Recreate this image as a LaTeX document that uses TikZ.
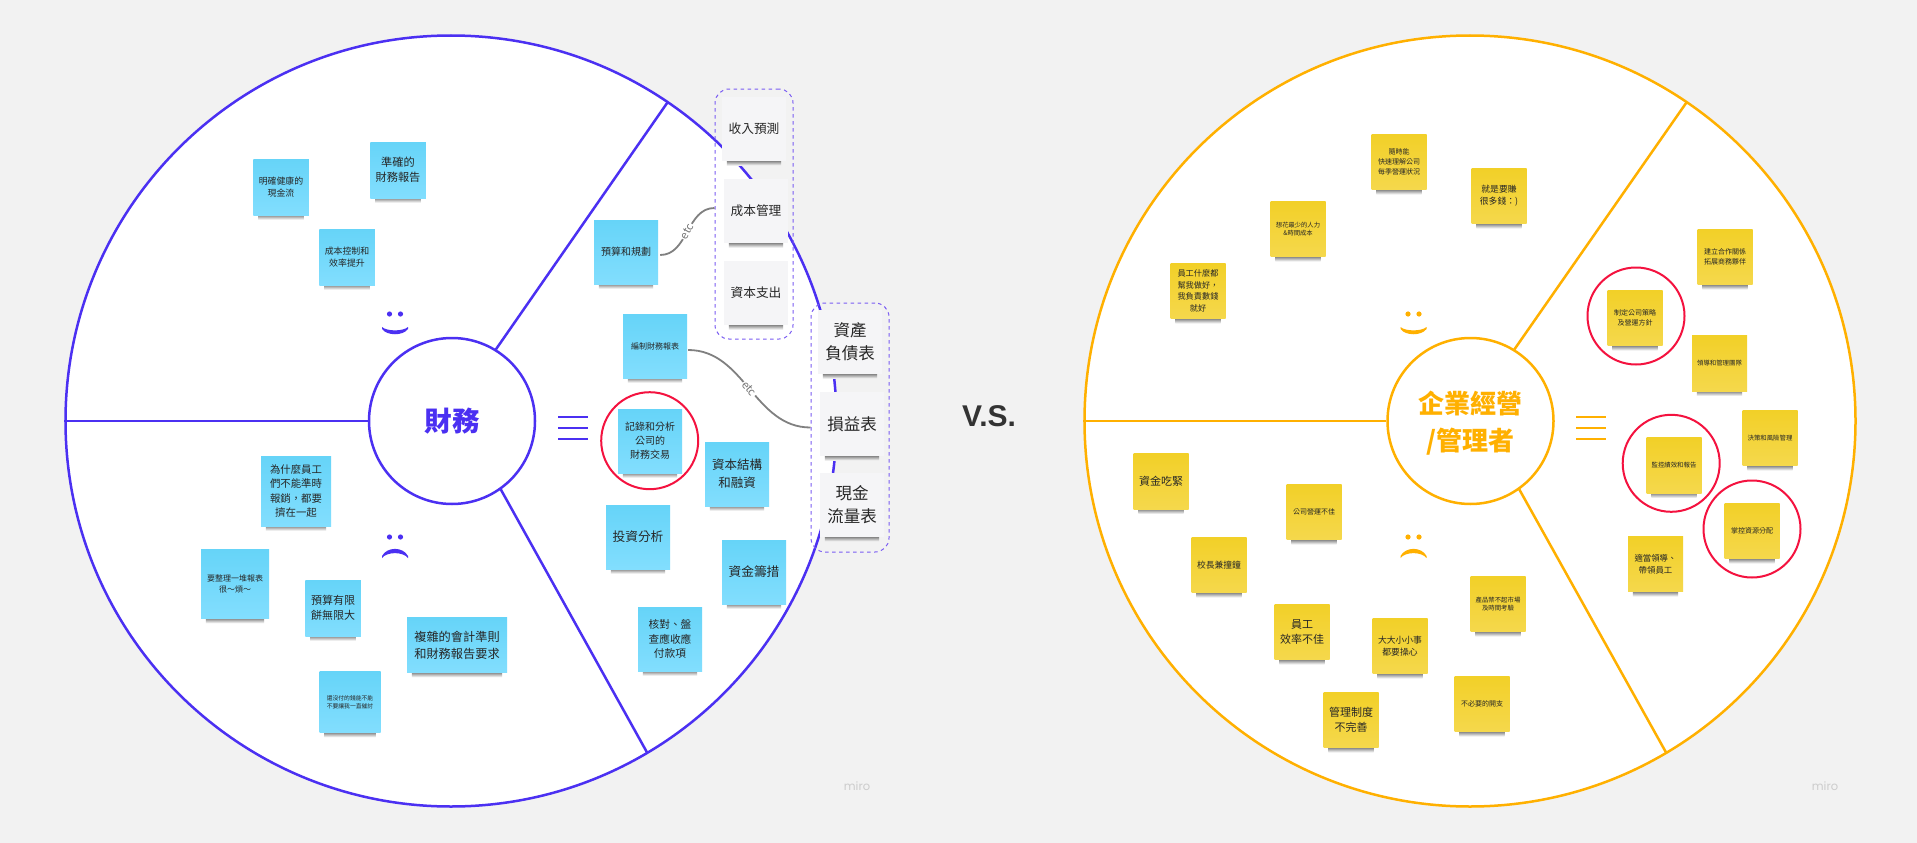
\documentclass[tikz,border=0pt]{standalone}
\usepackage{fontspec}
\setmainfont{Noto Sans CJK TC}
\newfontfamily\mirofont{Poppins}
\newfontfamily\versusfont{Liberation Sans}
\definecolor{pagegray}{HTML}{F2F2F2}
\definecolor{finblue}{HTML}{4B30F2}
\definecolor{mgmtorange}{HTML}{FFB000}
\definecolor{ringred}{HTML}{F4123F}
\definecolor{bluetop}{HTML}{66D4F8}
\definecolor{bluebot}{HTML}{82DEFE}
\definecolor{yellowtop}{HTML}{F2D028}
\definecolor{yellowbot}{HTML}{F5D84C}
\definecolor{graynote}{HTML}{F5F5F7}
\definecolor{groupdash}{HTML}{7A5CF2}
\definecolor{notetext}{HTML}{262626}
\tikzset{
  txt/.style 2 args={font=\fontsize{#1}{#2}\selectfont},
  notebase/.style={inner sep=0pt, align=center, text=notetext,
    append after command={\pgfextra{\let\notename\tikzlastnode
      \shade[top color=black!45, bottom color=white] ([xshift=5pt]\notename.south west) rectangle ([xshift=-5pt, yshift=-4.5pt]\notename.south east);}}},
  bluenote/.style={notebase, top color=bluetop, bottom color=bluebot},
  yellownote/.style={notebase, top color=yellowtop, bottom color=yellowbot, minimum width=55pt, minimum height=55.5pt},
  grayside/.style={notebase, fill=graynote, minimum width=64pt, minimum height=64pt},
  small/.style={minimum width=55.5pt, minimum height=56pt},
  mid/.style={minimum width=64pt, minimum height=64pt},
  bigring/.style={circle, draw=#1, fill=white, line width=2.5pt, inner sep=0pt, minimum size=771pt},
  hub/.style={circle, draw=#1, fill=white, line width=2.5pt, inner sep=0pt, minimum size=166pt, align=center, text=#1},
  redring/.style={circle, draw=ringred, line width=2pt, inner sep=0pt, minimum size=97pt},
  groupbox/.style={draw=groupdash, line width=1pt, dash pattern=on 3.5pt off 3.5pt, rounded corners=14pt, minimum width=78pt, inner sep=0pt},
  linkline/.style={draw=black!50, line width=1.8pt},
  etclabel/.style={midway, sloped, fill=white, inner sep=1pt, text=black!55, font=\fontsize{11}{11}\selectfont},
  miromark/.style={text=black!20, font=\mirofont\fontsize{11.5}{12}\selectfont},
  smileface/.pic={
    \path[pic actions] (-5.5,0) circle (2.6) (5.5,0) circle (2.6);
    \path[pic actions] (-13,13) .. controls (-8,17.5) and (8,17.5) .. (13,13) -- (13,15) .. controls (8,22) and (-8,22) .. (-13,15) -- cycle;
  },
  frownface/.pic={
    \path[pic actions] (-5.5,0) circle (2.6) (5.5,0) circle (2.6);
    \path[pic actions] (-13,19) .. controls (-8,9.5) and (8,9.5) .. (13,19) -- (13,21) .. controls (8,14.5) and (-8,14.5) .. (-13,21) -- cycle;
  }
}
\begin{document}
\begin{tikzpicture}[x=1pt, y=-1pt]
  \useasboundingbox (0,0) rectangle (1917,843);
  \fill[pagegray] (0,0) rectangle (1917,843);

  \node[bigring=finblue] (finouter) at (451,421) {};
  \node[hub=finblue, txt={27.5}{32}] (finhub) at (452,421) {\textbf{財務}};
  \draw[finblue, line width=2.5pt] (finhub.west) -- (finouter.west);
  \draw[finblue, line width=2.5pt] ([shift={(58.5:84pt)}]finhub.center) -- ([shift={(55.8:385.5pt)}]finouter.center);
  \draw[finblue, line width=2.5pt] ([shift={(-54.5:84pt)}]finhub.center) -- ([shift={(-59.4:385.5pt)}]finouter.center);

  \node[bigring=mgmtorange] (mgmtouter) at (1470,421) {};
  \node[hub=mgmtorange] (mgmthub) at (1470.5,421) {};
  \node[text=mgmtorange, align=center, inner sep=0pt, txt={26}{37}] (mgmttitle) at (1470.5,423.5) {\textbf{企業經營}\\\textbf{/管理者}};
  \draw[mgmtorange, line width=2.5pt] (mgmthub.west) -- (mgmtouter.west);
  \draw[mgmtorange, line width=2.5pt] ([shift={(58.5:84pt)}]mgmthub.center) -- ([shift={(55.8:385.5pt)}]mgmtouter.center);
  \draw[mgmtorange, line width=2.5pt] ([shift={(-54.5:84pt)}]mgmthub.center) -- ([shift={(-59.4:385.5pt)}]mgmtouter.center);

  \foreach \x/\c in {558/finblue, 1576/mgmtorange} {
    \foreach \y in {417,428,439} {
      \draw[\c, line width=2.4pt] (\x,\y) -- ++(30,0);
    }
  }

  \pic[fill=finblue] at (395,314) {smileface};
  \pic[fill=finblue] at (395,537) {frownface};
  \pic[fill=mgmtorange] at (1413.5,314) {smileface};
  \pic[fill=mgmtorange] at (1413.5,537) {frownface};

  \node[bluenote, small, txt={8.9}{12}] (cashflow) at (281,187) {明確健康的\\現金流};
  \node[bluenote, small, txt={11.2}{15.3}] (accurate) at (398,170) {準確的\\財務報告};
  \node[bluenote, small, txt={8.9}{12}] (costctrl) at (347,257) {成本控制和\\效率提升};
  \node[bluenote, minimum width=70pt, minimum height=70pt, txt={10.4}{14.3}] (expense) at (296,491) {為什麼員工\\們不能準時\\報銷，都要\\擠在一起};
  \node[bluenote, minimum width=68pt, minimum height=69pt, txt={8}{11}] (sheets) at (235,584) {要整理一堆報表\\很～煩～};
  \node[bluenote, small, txt={11}{15}] (limited) at (333,608) {預算有限\\餅無限大};
  \node[bluenote, minimum width=100pt, minimum height=55pt, txt={12.2}{17}] (rules) at (457,645) {複雜的會計準則\\和財務報告要求};
  \node[bluenote, minimum width=61pt, minimum height=61pt, txt={5.8}{8}] (unpaid) at (350,702) {還沒付的錢能不能\\不要讓我一直催討};

  \node[bluenote, mid, txt={10}{14}] (budget) at (626,252) {預算和規劃};
  \node[bluenote, mid, txt={8}{11}] (statements) at (655,346) {編制財務報表};
  \node[bluenote, mid, txt={10}{14}] (records) at (650,441) {記錄和分析\\公司的\\財務交易};
  \node[bluenote, mid, txt={12.5}{17.7}] (capital) at (737,474) {資本結構\\和融資};
  \node[bluenote, mid, txt={12.7}{17}] (invest) at (638,537) {投資分析};
  \node[bluenote, mid, txt={12.7}{17}] (funding) at (754,572) {資金籌措};
  \node[bluenote, mid, txt={10.7}{14.7}] (checks) at (670,639) {核對、盤\\查應收應\\付款項};
  \node[redring] (recordsring) at (649.7,440.7) {};

  \node[grayside, txt={12.7}{17}] (revenue) at (754,129) {收入預測};
  \node[grayside, txt={12.7}{17}] (costs) at (756,211) {成本管理};
  \node[grayside, txt={12.7}{17}] (capex) at (756,293) {資本支出};
  \node[groupbox, minimum height=250pt] (plangroup) at (754,214) {};

  \node[grayside, txt={16.5}{23}] (balance) at (850,342) {資產\\負債表};
  \node[grayside, txt={16.5}{23}] (income) at (852,424) {損益表};
  \node[grayside, txt={16.5}{23}] (cashtable) at (852,505) {現金\\流量表};
  \node[groupbox, minimum height=249pt] (reportgroup) at (850,427.5) {};

  \draw[linkline] ([xshift=2pt, yshift=-3pt]budget.east) to[out=0, in=180] node[etclabel] {etc} ([yshift=6pt]plangroup.west);
  \draw[linkline] ([xshift=1pt, yshift=-4pt]statements.east) to[out=0, in=180] node[etclabel] {etc} (reportgroup.west);

  \node[yellownote, txt={7}{9.7}] (quick) at (1399,162) {隨時能\\快速理解公司\\每季營運狀況};
  \node[yellownote, txt={8.8}{12}] (money) at (1499,196) {就是要賺\\很多錢：)};
  \node[yellownote, txt={6.3}{8.7}] (lesscost) at (1298,229) {想花最少的人力\\\&時間成本};
  \node[yellownote, txt={8.2}{11.5}] (staffdo) at (1198,291) {員工什麼都\\幫我做好，\\我負責數錢\\就好};
  \node[yellownote, txt={11}{15}] (tight) at (1161,481.5) {資金吃緊};
  \node[yellownote, txt={7}{10}] (badrun) at (1314,512) {公司營運不佳};
  \node[yellownote, txt={8.8}{12}] (allroles) at (1219,565) {校長兼撞鐘};
  \node[yellownote, txt={11}{15.3}] (lowperf) at (1302,632) {員工\\效率不佳};
  \node[yellownote, txt={8.8}{12}] (worry) at (1400,646) {大大小小事\\都要操心};
  \node[yellownote, txt={6.4}{8.7}] (product) at (1498,604) {產品禁不起市場\\及時間考驗};
  \node[yellownote, txt={7}{10}] (spend) at (1482,704) {不必要的開支};
  \node[yellownote, txt={11}{15}] (system) at (1351,720) {管理制度\\不完善};

  \node[yellownote, txt={7}{9.7}] (partners) at (1725,257) {建立合作關係\\拓展商務夥伴};
  \node[yellownote, txt={7}{9.7}] (strategy) at (1635,318) {制定公司策略\\及營運方針};
  \node[yellownote, txt={6.4}{9}] (team) at (1719.5,363.5) {領導和管理團隊};
  \node[yellownote, txt={6.4}{9}] (risk) at (1770,438) {決策和風險管理};
  \node[yellownote, txt={6.4}{9}] (monitor) at (1674,465.5) {監控績效和報告};
  \node[yellownote, txt={7}{10}] (resources) at (1752,531) {掌控資源分配};
  \node[yellownote, txt={8.4}{11.7}] (lead) at (1655.5,564) {適當領導、\\帶領員工};
  \node[redring] (strategyring) at (1636,316) {};
  \node[redring] (monitorring) at (1671.2,463.3) {};
  \node[redring] (resourcesring) at (1752,529) {};

  \node[text=black!80, font=\versusfont\bfseries\fontsize{30}{34}\selectfont] (versus) at (989,416) {V.S.};
  \node[miromark] (miroleft) at (857,786) {miro};
  \node[miromark] (miroright) at (1825,786) {miro};
\end{tikzpicture}
\end{document}
